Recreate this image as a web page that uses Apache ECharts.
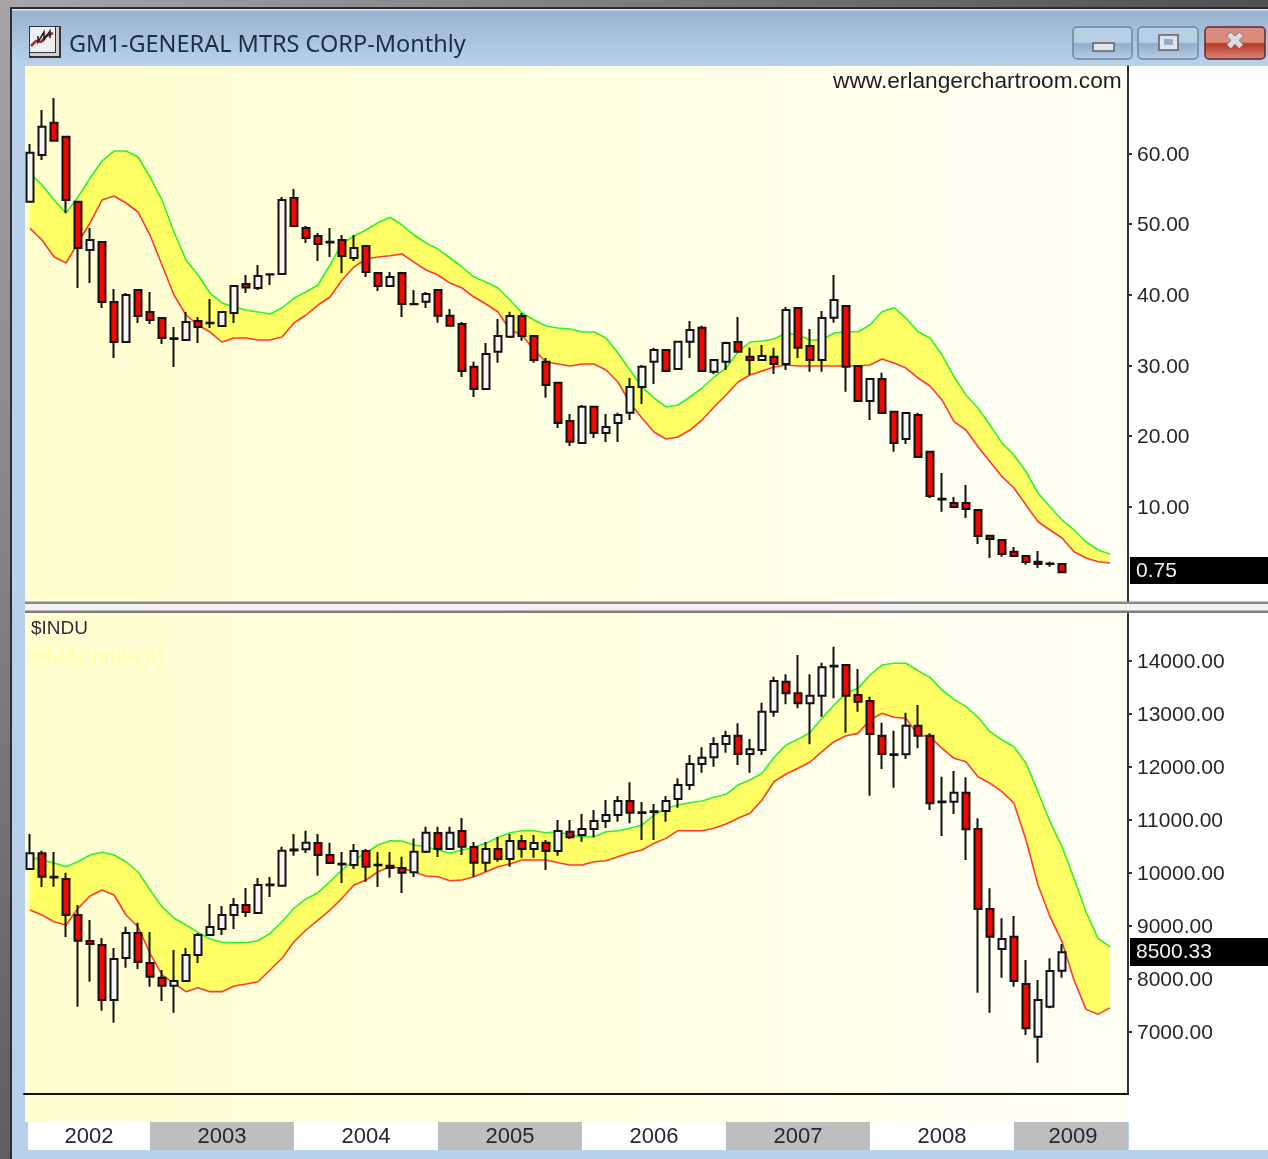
<!DOCTYPE html>
<html><head><meta charset="utf-8">
<style>html,body{margin:0;padding:0;background:#888}#c{width:1268px;height:1159px}</style>
<script src="https://cdn.jsdelivr.net/npm/echarts@6/dist/echarts.min.js"></script>
</head><body><div id="c"></div>
<script>
// [open, close, low, high]
const gmCandles = [
[53.15,60.09,53.15,61.32],[59.76,63.76,59.05,66.12],[64.33,61.78,61.78,67.82],[62.35,53.39,51.55,62.35],[53.15,46.60,40.95,53.15],
[46.32,47.74,41.65,49.43],[47.45,38.97,38.12,47.45],[38.97,33.31,31.05,40.80],[33.31,39.96,33.31,40.24],[40.66,36.99,36.00,40.66],
[37.55,36.42,35.85,40.38],[36.70,33.87,33.03,36.70],[33.85,33.75,29.77,35.43],[33.59,36.14,33.59,37.55],[36.28,35.43,33.17,36.84],
[36.05,35.95,35.29,39.39],[35.57,37.55,35.57,37.55],[37.41,41.23,36.00,41.23],[41.51,41.02,40.24,42.79],[40.95,42.64,40.66,44.20],
[42.90,42.85,41.37,42.93],[42.93,53.39,42.93,53.82],[53.68,49.72,49.72,54.95],[49.43,48.02,47.31,49.72],[48.30,47.17,44.77,48.73],
[47.50,47.40,45.33,49.43],[47.74,45.47,43.07,48.44],[45.19,46.60,44.77,48.44],[46.89,43.21,42.50,46.89],[43.07,41.23,40.52,43.07],
[41.23,42.50,41.23,43.21],[43.07,38.68,36.84,43.21],[38.70,38.65,38.65,40.66],[39.00,40.10,38.12,40.38],[40.66,37.03,36.04,40.66],
[37.03,35.61,35.61,37.98],[35.85,29.21,28.36,36.14],[29.82,26.66,25.53,30.52],[26.66,31.61,26.66,33.17],[31.94,34.16,30.38,36.56],
[34.06,36.99,33.87,37.59],[36.99,34.16,33.49,37.41],[34.16,30.76,30.38,34.16],[30.52,27.23,25.43,31.05],[27.55,21.85,21.15,27.55],
[22.14,19.21,18.60,23.13],[19.02,24.16,19.02,24.40],[24.16,20.44,19.73,24.30],[20.44,21.29,19.17,23.13],[21.85,22.98,19.17,23.31],
[23.31,26.94,22.28,28.22],[26.94,29.82,24.54,30.06],[30.52,32.18,27.37,32.50],[32.18,29.21,29.21,32.18],[29.49,33.35,29.49,33.35],
[33.35,35.01,31.05,36.28],[35.33,29.21,29.21,35.61],[29.11,30.76,28.78,30.76],[30.52,33.17,29.35,33.35],[33.31,31.94,31.94,36.84],
[31.23,30.76,28.64,32.50],[30.76,31.33,30.76,32.88],[31.23,30.20,28.78,32.50],[30.20,37.84,29.35,38.26],[38.12,32.50,31.05,38.12],
[32.74,30.76,29.11,35.15],[30.76,36.70,29.11,37.69],[36.75,39.25,36.04,42.79],[38.40,29.82,26.28,38.40],[29.91,24.96,24.96,29.91],
[24.96,28.08,22.28,28.08],[28.08,23.27,23.27,28.97],[23.45,19.02,17.79,23.45],[19.59,23.27,18.88,23.27],[22.98,17.04,17.04,23.31],
[17.79,11.53,11.24,17.79],[11.15,11.05,9.31,14.78],[10.54,9.97,9.97,11.39],[10.54,9.69,8.42,13.08],[9.55,5.87,4.74,9.55],
[5.91,5.45,2.76,5.91],[5.30,3.32,2.94,5.30],[3.65,3.04,3.04,4.31],[3.04,2.19,1.81,3.04],[2.23,1.91,1.34,3.75],
[1.98,1.92,1.53,2.23],[1.91,0.75,0.75,1.91]
];
const gmUpper = [
57.21,55.52,53.39,51.55,53.82,56.50,58.91,60.32,60.32,59.48,
56.65,53.39,48.87,44.91,42.79,40.24,38.83,38.26,37.84,37.55,
37.27,38.12,39.53,40.38,41.37,44.2,47.27,48.30,49.15,50.18,
50.95,49.86,48.44,47.31,46.46,45.19,43.92,42.50,41.80,40.95,
39.25,37.41,36.42,35.57,35.29,35.15,34.72,34.72,33.87,31.75,
29.35,26.94,25.39,24.12,24.40,25.53,26.80,28.36,29.63,31.89,
33.31,33.45,33.73,34.58,34.30,33.59,33.59,34.58,34.77,34.77,
35.71,37.59,38.16,36.70,34.77,33.87,31.47,28.40,25.81,23.97,
21.57,19.02,17.33,14.96,11.95,10.01,8.13,6.72,5.06,3.89,3.32];
const gmLower = [
49.39,47.74,45.37,44.48,47.31,50.14,53.39,53.96,52.97,51.70,
48.44,44.2,39.96,37.13,35.71,34.72,33.31,33.87,33.87,33.59,
33.59,34.02,36.0,37.13,38.54,39.67,42.08,43.92,45.05,45.33,
45.52,45.76,44.62,43.49,42.79,41.65,40.95,39.67,38.68,37.55,
35.01,34.30,32.18,30.48,30.20,29.91,30.20,30.20,29.35,27.65,
24.68,22.56,20.58,19.59,19.87,20.86,22.28,24.12,25.81,27.65,
28.64,29.21,29.77,30.06,29.91,29.91,29.91,29.91,29.91,29.91,
30.06,30.90,30.34,29.63,28.22,27.09,25.11,22.04,20.86,18.50,
16.38,14.26,12.66,10.25,7.89,6.72,5.59,3.65,2.76,2.23,2.05];
const induCandles = [
[10069,10365,10069,10729],[10365,9923,9729,10414],[9925,9910,9734,10389],[9880,9201,8786,9999],[9201,8715,7471,9390],
[8710,8653,7942,9106],[8634,7597,7395,8766],[7597,8370,7169,8578],[8389,8861,8205,8981],[8861,8314,8182,9056],
[8295,8037,7848,8880],[8018,7867,7578,8163],[7867,7956,7357,8540],[7956,8446,7956,8578],[8446,8823,8295,8861],
[8823,8974,8823,9409],[8937,9201,8823,9371],[9201,9390,8937,9522],[9390,9258,9163,9710],[9239,9767,9239,9899],
[9775,9760,9541,9918],[9754,10414,9754,10490],[10435,10420,10319,10729],[10440,10565,10370,10792],[10559,10333,9942,10729],
[10333,10182,10182,10565],[10170,10155,9804,10389],[10144,10408,10069,10540],[10408,10112,9829,10446],[10150,10138,9729,10389],
[10131,10087,9904,10389],[10087,9999,9616,10301],[10006,10395,9918,10646],[10395,10752,10370,10866],[10748,10446,10295,10866],
[10446,10752,10446,10866],[10786,10490,10333,11031],[10484,10187,9923,10578],[10187,10446,10017,10578],[10446,10257,10206,10672],
[10257,10597,10112,10729],[10597,10446,10282,10710],[10446,10559,10282,10710],[10565,10408,10050,10616],[10408,10786,10319,10993],
[10773,10667,10635,10993],[10710,10823,10584,11106],[10823,10974,10667,11182],[10974,11088,10842,11371],[11088,11352,10961,11446],
[11352,11131,10931,11705],[11140,11125,10616,11333],[11158,11143,10616,11295],[11163,11352,10961,11446],[11390,11654,11227,11780],
[11654,12050,11560,12220],[12050,12170,11887,12366],[12178,12428,11999,12554],[12428,12578,12264,12679],[12584,12239,12031,12818],
[12239,12327,11887,12522],[12314,13038,12220,13207],[13038,13617,12943,13698],[13604,13385,13177,13743],[13385,13196,13101,14107],
[13196,13339,12422,13743],[13339,13875,12943,13962],[13905,13890,13290,14264],[13918,13339,12641,13918],[13352,13226,13038,13843],
[13239,12616,11452,13320],[12584,12239,11956,12829],[12235,12220,11603,12679],[12233,12773,12144,13018],[12773,12584,12346,13164],
[12584,11309,11182,12629],[11345,11330,10692,11811],[11339,11509,11106,11918],[11509,10818,10239,11799],[10824,9315,7734,11026],
[9315,8791,7357,9705],[8559,8747,8018,9138],[8791,7956,7848,9182],[7899,7063,6937,8352],[6904,7597,6413,7975],
[7471,8144,7440,8384],[8150,8500,8018,8653]
];
const induUpper = [
10295,10238,10182,10112,10206,10333,10384,10333,10206,10017,
9672,9358,9139,9012,8874,8748,8685,8678,8678,8716,
8855,9074,9327,9503,9622,9830,10050,10238,10376,10522,
10603,10597,10522,10490,10427,10365,10427,10478,10553,10667,
10754,10792,10792,10754,10773,10710,10678,10678,10773,10792,
10837,10899,11088,11214,11277,11320,11352,11422,11479,11654,
11748,11875,12173,12409,12516,12645,12912,13163,13384,13478,
13730,13918,13951,13951,13811,13686,13447,13271,13132,12932,
12660,12503,12377,12063,11528,10962,10490,9894,9263,8761,8603];
const induLower = [
9295,9201,9074,9012,9327,9559,9672,9578,9201,8980,
8478,8069,7912,7754,7829,7754,7754,7861,7899,7942,
8163,8384,8697,8918,9106,9295,9516,9767,9861,10017,
10112,10082,10017,9937,9923,9848,9861,9923,10017,10112,
10163,10238,10238,10238,10188,10144,10144,10206,10225,10301,
10376,10427,10553,10647,10792,10792,10792,10837,10918,11026,
11120,11371,11716,11861,11969,12088,12282,12471,12584,12629,
12881,13007,12932,12912,12598,12566,12346,12158,12094,11811,
11686,11528,11309,10616,9767,9169,8698,7975,7420,7330,7449];
const gmTicks = [10,20,30,40,50,60];
const induTicks = [7000,8000,9000,10000,11000,12000,13000,14000];
const yearLabels = ['2002','2003','2004','2005','2006','2007','2008','2009'];
const yearStarts = [-0.17,10,22,34,46,58,70,82,91.5];
const gmLast = '0.75', induLast = '8500.33';
const titleText = 'GM1-GENERAL MTRS CORP-Monthly';
const siteText = 'www.erlangerchartroom.com';
const categories = [];
for (let i = 0; i < 92; i++) { const m = i + 2; categories.push((2002 + Math.floor(m / 12)) + '-' + String(m % 12 + 1).padStart(2, '0')); }

const FONT = '"Liberation Sans", Arial, sans-serif';
const chart = echarts.init(document.getElementById('c'), null, {renderer: 'canvas'});

function bandSeries(up, lo, axis) {
  return {
    type: 'custom', xAxisIndex: axis, yAxisIndex: axis, z: 2, silent: true, clip: true,
    data: up.map((v, i) => [i, v, lo[i]]),
    encode: {x: 0, y: [1, 2]},
    renderItem(params, api) {
      if (params.dataIndex !== 0) return null;
      const pts = [];
      up.forEach((v, i) => pts.push(api.coord([i, v])));
      for (let i = lo.length - 1; i >= 0; i--) pts.push(api.coord([i, lo[i]]));
      return {type: 'polygon', shape: {points: pts}, style: {fill: '#FFFF66'}};
    }
  };
}
const lineS = (d, color, axis) => ({type: 'line', data: d, xAxisIndex: axis, yAxisIndex: axis, z: 3, showSymbol: false, silent: true,
  lineStyle: {color, width: 1.6}});
const candleS = (d, axis) => ({type: 'candlestick', data: d, xAxisIndex: axis, yAxisIndex: axis, z: 5, barWidth: 7, silent: true,
  itemStyle: {color: '#F6F6F6', color0: '#FF0000', borderColor: '#111', borderColor0: '#111', borderWidth: 2}});

const yAx = (idx, min, max, ticks) => ({
  type: 'value', gridIndex: idx, position: 'right', min, max, scale: true, splitLine: {show: false},
  axisLine: {show: true, onZero: false, lineStyle: {color: '#333', width: 2}},
  axisTick: {show: true, length: 4, customValues: ticks, lineStyle: {color: '#333', width: 2}},
  axisLabel: {show: true, customValues: ticks, margin: 9, fontFamily: FONT, fontSize: 21, color: '#26262c',
    rich: {a: {fontFamily: FONT, fontSize: 21, color: '#26262c', padding: [3, 0, 0, 0]}},
    formatter: v => '{a|' + Number(v).toFixed(2) + '}'}
});

const rect = (x, y, w, h, fill, z = -5, extra = {}) => ({type: 'rect', shape: {x, y, width: w, height: h, ...extra.shape}, style: {fill, ...extra.style}, z, silent: true});
const txt = (x, y, text, size, fill, z = 20, extra = {}) => ({type: 'text', x, y, z, silent: true,
  style: {text, fontFamily: FONT, fontSize: size, fill, textVerticalAlign: 'middle', textBaseline: 'middle', ...extra}});
const vgrad = (a, b) => new echarts.graphic.LinearGradient(0, 0, 0, 1, [{offset: 0, color: a}, {offset: 1, color: b}]);
const hgrad = (a, b) => new echarts.graphic.LinearGradient(0, 0, 1, 0, [{offset: 0, color: a}, {offset: 1, color: b}]);
const btn = (x, w, a, b, stroke) => ({type: 'rect', shape: {x, y: 27, width: w, height: 32, r: 4}, z: 10, silent: true,
  style: {fill: new echarts.graphic.LinearGradient(0, 0, 0, 1, [{offset: 0, color: a}, {offset: .48, color: a}, {offset: .52, color: b}, {offset: 1, color: a}]), stroke, lineWidth: 1.5}});

const chrome = [
  rect(0, 0, 1268, 1159, vgrad('#a6a4a8', '#5e5e62'), -9),
  rect(0, 0, 1268, 8, hgrad('#a8a6aa', '#505052'), -8),
  rect(10, 7, 1258, 1152, '#2e2e32', -8),
  rect(12, 9, 1256, 1150, '#B8D0EA', -7),
  rect(12, 9, 1256, 57, vgrad('#98b2cf', '#b9d2ec'), -6),
  rect(12, 9, 1256, 1.5, '#dbe6f1', -6),
  rect(25, 66, 1104, 1056, hgrad('#FFFFD0', '#FFFFF5'), -5),
  rect(1129, 66, 139, 1084, '#FFFFFF', -5),
  rect(25, 602, 1243, 11, '#F2F2F2', 8),
  rect(25, 601.5, 1243, 2.5, '#8a8a8a', 8),
  rect(25, 610.5, 1243, 2.5, '#7c7c7c', 8),
  // title bar icon
  rect(29, 26, 32, 32, '#33343a', 10), rect(30, 27, 25, 25, '#efefef', 10), rect(56, 27, 3, 28, '#d0d0d0', 10), rect(30, 53, 29, 3, '#d0d0d0', 10),
  {type: 'polyline', shape: {points: [[31, 46], [36, 41], [41, 42], [46, 36], [53, 33]]}, style: {stroke: '#a82828', lineWidth: 2.5, fill: null}, z: 11, silent: true},
  {type: 'polyline', shape: {points: [[38, 36], [38, 42], [44, 32], [44, 40], [50, 31], [50, 38]]}, style: {stroke: '#222', lineWidth: 1.5, fill: null}, z: 11, silent: true},
  txt(69, 45, titleText, 23.5, '#1f2d40', 20, {fontFamily: '"Noto Sans", sans-serif'}),
  btn(1073, 59, '#b9cfe6', '#8faccb', '#6f849c'),
  btn(1138, 60, '#b9cfe6', '#8faccb', '#6f849c'),
  btn(1205, 60, '#dd8a7c', '#b83a22', '#5a2a30'),
  rect(1093, 43, 21, 8, '#e4e4e8', 12, {style: {stroke: '#5a6070', lineWidth: 1.5}}),
  rect(1159, 35, 19, 15, '#e4e4e8', 12, {style: {stroke: '#5a6070', lineWidth: 1.5}}),
  rect(1164, 39, 9, 6, '#8faccb', 13),
  txt(1235, 43, '\u2716', 24, '#dcdce0', 13, {fontFamily: '"DejaVu Sans", sans-serif', textAlign: 'center', stroke: '#5a5a60', lineWidth: 1}),
  txt(833, 81.5, siteText, 22.7, '#1c1c24'),
  txt(31, 629, '$INDU', 19, '#30303a'),
  txt(31, 658, 'DMAChnl(6,4)', 21, '#FFFFA8'),
  rect(1130, 557, 138, 27, '#000', 15), txt(1136, 571.5, gmLast, 21, '#f2f2f2', 20),
  rect(1130, 938, 138, 28, '#000', 15), txt(1136, 952.5, induLast, 21, '#f2f2f2', 20)
];

chart.setOption({
  animation: false,
  backgroundColor: 'transparent',
  grid: [
    {left: 24, top: 66, width: 1104, height: 537},
    {left: 24, top: 613, width: 1104, height: 481},
    {left: 24, top: 1122, width: 1104, height: 28}
  ],
  xAxis: [
    {type: 'category', gridIndex: 0, data: categories, boundaryGap: true, show: false},
    {type: 'category', gridIndex: 1, data: categories, boundaryGap: true,
      axisLine: {show: true, onZero: false, lineStyle: {color: '#111', width: 2}}, axisTick: {show: false}, axisLabel: {show: false}, splitLine: {show: false}},
    {type: 'value', gridIndex: 2, min: -0.5, max: 91.5, show: false, splitLine: {show: false}}
  ],
  yAxis: [
    yAx(0, -3.607, 72.35, gmTicks),
    yAx(1, 5823, 14900, induTicks),
    {type: 'value', gridIndex: 2, min: 0, max: 1, show: false, splitLine: {show: false}}
  ],
  graphic: {elements: chrome},
  series: [
    bandSeries(gmUpper, gmLower, 0),
    lineS(gmUpper, '#2EF02E', 0), lineS(gmLower, '#FF3A30', 0),
    candleS(gmCandles, 0),
    bandSeries(induUpper, induLower, 1),
    lineS(induUpper, '#2EF02E', 1), lineS(induLower, '#FF3A30', 1),
    candleS(induCandles, 1),
    {
      type: 'custom', xAxisIndex: 2, yAxisIndex: 2, silent: true, z: 6, clip: false,
      data: yearLabels.map((y, i) => [yearStarts[i], yearStarts[i + 1], y]),
      encode: {x: [0, 1]},
      renderItem(params, api) {
        const a = api.coord([api.value(0), 1]), b = api.coord([api.value(1), 0]);
        const i = params.dataIndex;
        return {type: 'group', children: [
          {type: 'rect', shape: {x: a[0], y: a[1], width: b[0] - a[0], height: b[1] - a[1]}, style: {fill: i % 2 ? '#BEBEBE' : '#FFFFFF'}},
          {type: 'text', x: (a[0] + b[0]) / 2 + (i === 7 ? 2 : 0), y: (a[1] + b[1]) / 2 + 1, style: {text: yearLabels[i], fontFamily: FONT, fontSize: 22, fill: '#26262c', textAlign: 'center', textVerticalAlign: 'middle'}}
        ]};
      }
    }
  ]
});
</script></body></html>
